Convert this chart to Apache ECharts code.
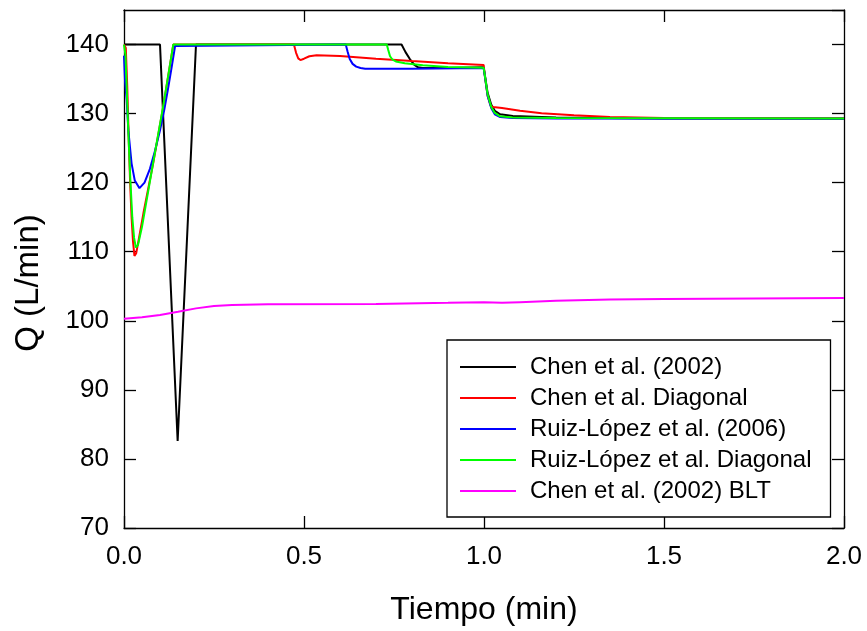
<!DOCTYPE html>
<html>
<head>
<meta charset="utf-8">
<script src="https://cdn.jsdelivr.net/npm/echarts@6/dist/echarts.min.js"></script>
<style>
  html, body { margin: 0; padding: 0; background: #fff; }
  #chart { width: 867px; height: 631px; }
</style>
</head>
<body>
<div id="chart"></div>
<script>
// Flow rate Q (L/min) versus time (min) for five controller designs.
const seriesNames = [
  'Chen et al. (2002)',
  'Chen et al. Diagonal',
  'Ruiz-López et al. (2006)',
  'Ruiz-López et al. Diagonal',
  'Chen et al. (2002) BLT'
];

// [time (min), Q (L/min)]
const chen2002 = [
  [0, 140], [0.1, 140], [0.149, 82.6], [0.2, 140], [0.771, 140],
  [0.782, 138.9], [0.794, 137.9], [0.806, 137.1], [0.817, 136.7], [0.83, 136.6],
  [0.9, 136.6], [0.999, 136.7], [1.003, 135.4], [1.01, 133.0], [1.02, 131.3],
  [1.03, 130.4], [1.045, 129.9], [1.08, 129.65], [1.2, 129.45], [1.5, 129.3], [2.0, 129.3]
];

const chenDiagonal = [
  [0, 140], [0.005, 139.5], [0.009, 134], [0.013, 126.5], [0.017, 120], [0.021, 115],
  [0.025, 111.5], [0.029, 109.4], [0.034, 109.8], [0.04, 111.5], [0.054, 115.6],
  [0.081, 122.8], [0.109, 131], [0.137, 140], [0.472, 140], [0.478, 138.8],
  [0.484, 138.0], [0.49, 137.75], [0.5, 137.95], [0.515, 138.3], [0.535, 138.45],
  [0.6, 138.35], [0.7, 137.95], [0.8, 137.6], [0.9, 137.3], [0.999, 137.05],
  [1.003, 135.2], [1.01, 132.6], [1.018, 131.2], [1.025, 130.95], [1.05, 130.8],
  [1.1, 130.4], [1.16, 130.05], [1.25, 129.75], [1.35, 129.5], [1.5, 129.35], [2.0, 129.3]
];

const ruizLopez2006 = [
  [0, 138.4], [0.003, 134.6], [0.0074, 132.0], [0.012, 127.6], [0.021, 122.8],
  [0.03, 120.3], [0.043, 119.2], [0.057, 120.0], [0.072, 122.0], [0.086, 124.6],
  [0.1, 127.6], [0.112, 130.6], [0.123, 133.8], [0.133, 136.9], [0.142, 139.8],
  [0.146, 140], [0.616, 140], [0.621, 139.0], [0.627, 137.9], [0.635, 137.2],
  [0.645, 136.8], [0.657, 136.6], [0.67, 136.5], [0.8, 136.5], [0.999, 136.6],
  [1.003, 135.2], [1.01, 132.6], [1.02, 130.8], [1.03, 129.9], [1.045, 129.5],
  [1.08, 129.35], [1.2, 129.3], [2.0, 129.25]
];

const ruizLopezDiagonal = [
  [0, 140], [0.004, 138.5], [0.008, 133], [0.013, 126], [0.018, 120], [0.023, 115],
  [0.028, 112], [0.033, 110.6], [0.039, 111], [0.05, 113.6], [0.08, 122.6],
  [0.11, 131.4], [0.137, 140], [0.73, 140], [0.734, 139.2], [0.739, 138.3],
  [0.746, 137.8], [0.755, 137.55], [0.78, 137.3], [0.83, 137.0], [0.9, 136.75],
  [0.999, 136.65], [1.003, 135.3], [1.01, 132.8], [1.02, 131.0], [1.03, 130.1],
  [1.045, 129.6], [1.08, 129.45], [1.2, 129.35], [2.0, 129.3]
];

const chenBLT = [
  [0, 100.3], [0.05, 100.5], [0.1, 100.85], [0.15, 101.3], [0.2, 101.8],
  [0.25, 102.15], [0.3, 102.3], [0.4, 102.4], [0.7, 102.45], [0.9, 102.6],
  [1.0, 102.7], [1.05, 102.6], [1.1, 102.7], [1.2, 102.9], [1.35, 103.1],
  [1.5, 103.15], [2.0, 103.3]
];

const seriesData = [chen2002, chenDiagonal, ruizLopez2006, ruizLopezDiagonal, chenBLT];
const seriesColors = ['#000000', '#ff0000', '#0000ff', '#00ff00', '#ff00ff'];

const xTicks = { min: 0, max: 2, interval: 0.5 };
const yTicks = { min: 70, max: 145, interval: 10 };

const FONT = '"Liberation Sans", Arial, sans-serif';

const chart = echarts.init(document.getElementById('chart'), null, { renderer: 'canvas' });

// Frame axes: every side keeps its own edge (no snapping to zero).
const axisLineStyle = () => ({ show: true, onZero: false, lineStyle: { color: '#000', width: 1.3 } });
const tickStyle = () => ({ show: true, inside: true, length: 12, lineStyle: { color: '#000', width: 1.3 } });

chart.setOption({
  backgroundColor: '#fff',
  animation: false,
  grid: { left: 124, right: 23, top: 10, bottom: 102, containLabel: false },
  xAxis: [
    {
      type: 'value', position: 'bottom',
      min: xTicks.min, max: xTicks.max, interval: xTicks.interval,
      name: 'Tiempo (min)', nameLocation: 'middle', nameGap: 66,
      nameTextStyle: { fontFamily: FONT, fontSize: 32, color: '#000' },
      axisLine: axisLineStyle(), axisTick: tickStyle(),
      axisLabel: { fontFamily: FONT, fontSize: 26, color: '#000', margin: 16,
        formatter: v => v.toFixed(1) },
      splitLine: { show: false }
    },
    {
      type: 'value', position: 'top',
      min: xTicks.min, max: xTicks.max, interval: xTicks.interval,
      axisLine: axisLineStyle(), axisTick: tickStyle(),
      axisLabel: { show: false }, splitLine: { show: false }
    }
  ],
  yAxis: [
    {
      type: 'value', position: 'left',
      min: yTicks.min, max: yTicks.max, interval: yTicks.interval,
      axisLine: axisLineStyle(), axisTick: tickStyle(),
      axisLabel: { fontFamily: FONT, fontSize: 26, color: '#000', margin: 15, showMaxLabel: false },
      splitLine: { show: false }
    },
    {
      type: 'value', position: 'right',
      min: yTicks.min, max: yTicks.max, interval: yTicks.interval,
      axisLine: axisLineStyle(), axisTick: tickStyle(),
      axisLabel: { show: false }, splitLine: { show: false }
    }
  ],
  legend: {
    orient: 'vertical',
    left: 447, top: 340,
    padding: [15, 19, 14, 13],
    icon: 'rect',
    itemWidth: 56, itemHeight: 2, itemGap: 7,
    borderColor: '#000', borderWidth: 1.3, borderRadius: 0,
    backgroundColor: '#fff',
    textStyle: { fontFamily: FONT, fontSize: 24, color: '#000', lineHeight: 24, padding: [0, 0, 0, 9] },
    data: seriesNames
  },
  graphic: [
    {
      type: 'text',
      x: 29, y: 283,
      rotation: Math.PI / 2,
      style: {
        text: 'Q (L/min)', font: '33px ' + FONT, fill: '#000',
        align: 'center', verticalAlign: 'middle'
      }
    }
  ],
  series: seriesNames.map((name, i) => ({
    name,
    type: 'line',
    data: seriesData[i],
    symbol: 'none',
    smooth: false,
    lineStyle: { color: seriesColors[i], width: 2 },
    itemStyle: { color: seriesColors[i] },
    z: 2 + i
  }))
});
</script>
</body>
</html>
